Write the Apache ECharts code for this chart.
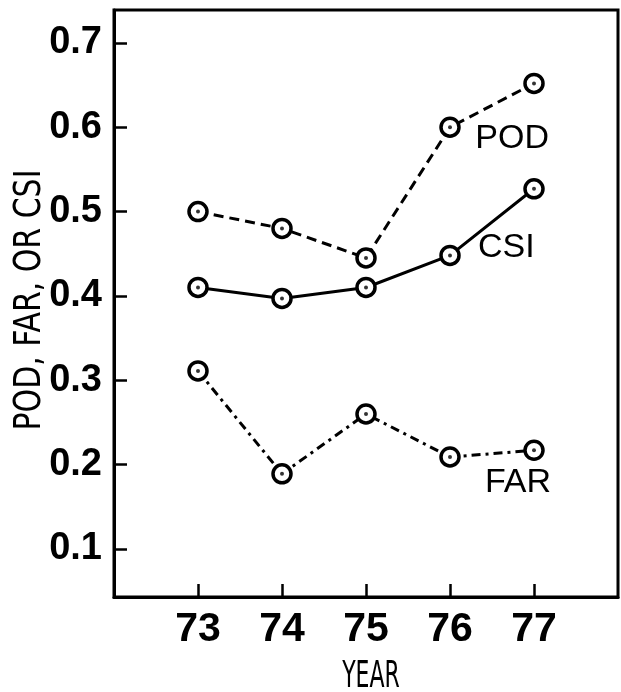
<!DOCTYPE html>
<html>
<head>
<meta charset="utf-8">
<script src="https://cdn.jsdelivr.net/npm/echarts@6/dist/echarts.min.js"></script>
<style>
html,body{margin:0;padding:0;background:#fff;}
#chart{width:621px;height:692px;}
</style>
</head>
<body>
<div id="chart"></div>
<script>
const years = [73, 74, 75, 76, 77];
const pod = [0.50, 0.48, 0.445, 0.60, 0.652];
const csi = [0.41, 0.397, 0.41, 0.448, 0.527];
const far = [0.311, 0.189, 0.26, 0.209, 0.217];
const yTicks = [0.1, 0.2, 0.3, 0.4, 0.5, 0.6, 0.7];
const xTicks = [73, 74, 75, 76, 77];
const seriesNames = ['POD', 'CSI', 'FAR'];
const labelPos = [[76.74, 0.587], [76.67, 0.457], [76.81, 0.179]];
const xTitle = 'YEAR';
const yTitle = 'POD, FAR, OR CSI';

const pairs = arr => years.map((y, i) => [y, arr[i]]);
const values = [pod, csi, far];
const dashes = [[10, 6], 'solid', [9, 5, 3, 5]];
const titleFont = 'DejaVu Sans Condensed, DejaVu Sans, sans-serif';

const chart = echarts.init(document.getElementById('chart'), null, {renderer: 'canvas'});
const series = [];
values.forEach((arr, k) => {
  series.push({
    name: seriesNames[k],
    type: 'line',
    data: pairs(arr),
    symbol: 'circle',
    symbolSize: 18,
    showAllSymbol: true,
    itemStyle: {color: '#fff', borderColor: '#000', borderWidth: 3.5},
    lineStyle: {color: '#000', width: 3, type: dashes[k]},
    z: 2,
    markPoint: {
      symbol: 'circle',
      symbolSize: 1,
      itemStyle: {color: 'rgba(0,0,0,0)'},
      label: {
        show: true, position: 'inside', formatter: seriesNames[k],
        color: '#000', fontSize: 34, fontFamily: 'Liberation Sans, Arial, sans-serif'
      },
      data: [{coord: labelPos[k]}]
    }
  });
  series.push({
    type: 'scatter',
    data: pairs(arr),
    symbol: 'circle',
    symbolSize: 4,
    itemStyle: {color: '#000'},
    z: 5,
    silent: true
  });
});

chart.setOption({
  animation: false,
  backgroundColor: '#fff',
  grid: {left: 114, right: 3, top: 10, bottom: 95, show: true, borderColor: '#000', borderWidth: 3,
         containLabel: false, outerBoundsMode: 'none'},
  graphic: [
    {type: 'text', x: 371, y: 677, scaleX: 0.66, z: 10,
     style: {text: xTitle, fontSize: 37, fontFamily: titleFont, fill: '#000', align: 'center', verticalAlign: 'middle'}},
    {type: 'text', x: 30, y: 300, rotation: Math.PI / 2, scaleX: 0.9, z: 10,
     style: {text: yTitle, fontSize: 37, fontFamily: titleFont, fill: '#000', align: 'center', verticalAlign: 'middle'}}
  ],
  xAxis: {
    type: 'value', min: 72, max: 78,
    axisLine: {show: true, lineStyle: {color: '#000', width: 3}},
    axisTick: {show: true, inside: true, length: 13, lineStyle: {color: '#000', width: 2.5}, customValues: xTicks},
    axisLabel: {color: '#000', fontSize: 41, fontWeight: 'bold', margin: 12, fontFamily: 'Liberation Sans, Arial, sans-serif', customValues: xTicks, formatter: v => String(v)},
    splitLine: {show: false}
  },
  yAxis: {
    type: 'value', min: 0.043, max: 0.739,
    axisLine: {show: true, lineStyle: {color: '#000', width: 3}},
    axisTick: {show: true, inside: true, length: 13, lineStyle: {color: '#000', width: 2.5}, customValues: yTicks},
    axisLabel: {color: '#000', fontSize: 38, fontWeight: 'bold', margin: 12, fontFamily: 'Liberation Sans, Arial, sans-serif', customValues: yTicks, formatter: v => v.toFixed(1)},
    splitLine: {show: false}
  },
  series: series
});
</script>
</body>
</html>
